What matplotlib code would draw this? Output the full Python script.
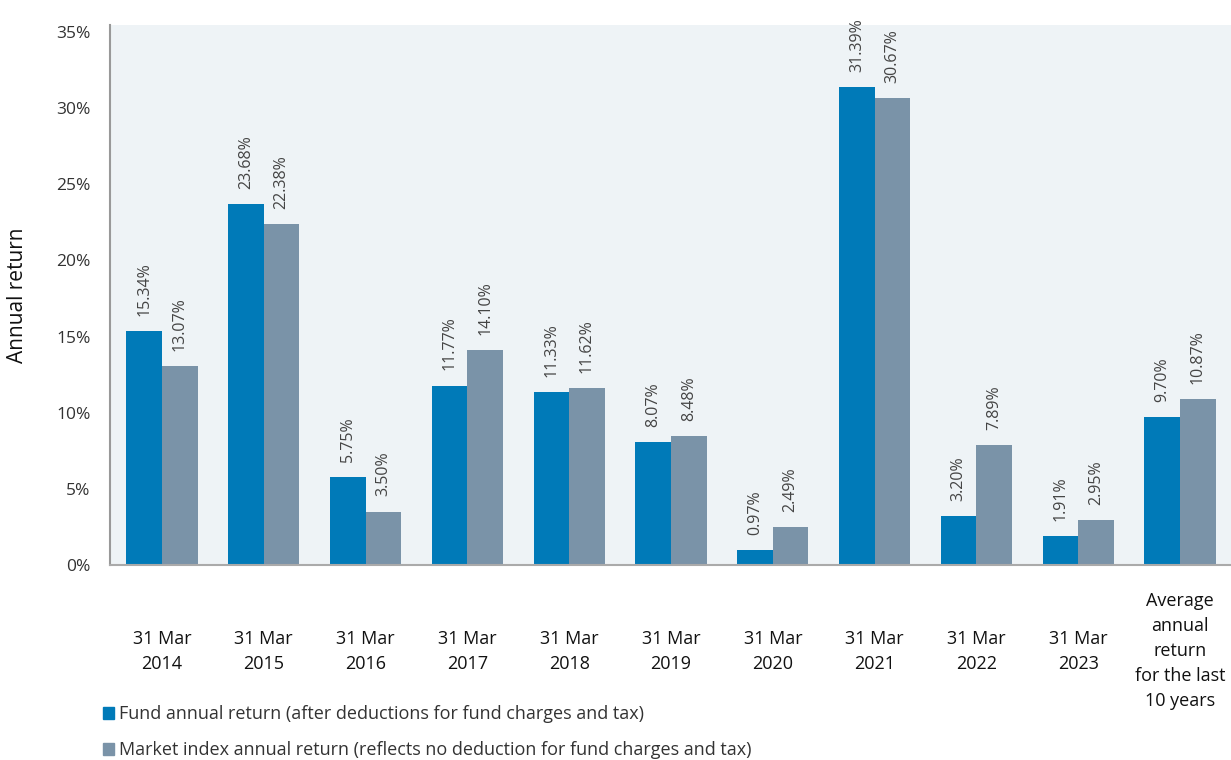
import matplotlib
matplotlib.use('Agg')
import matplotlib.pyplot as plt
import numpy as np
from matplotlib.patches import Patch

plt.rcParams['font.family'] = ['Open Sans', 'DejaVu Sans']

# data
periods = ['31 Mar\n2014', '31 Mar\n2015', '31 Mar\n2016', '31 Mar\n2017', '31 Mar\n2018',
           '31 Mar\n2019', '31 Mar\n2020', '31 Mar\n2021', '31 Mar\n2022', '31 Mar\n2023',
           'Average\nannual\nreturn\nfor the last\n10 years']
fund_ret = [15.34, 23.68, 5.75, 11.77, 11.33, 8.07, 0.97, 31.39, 3.20, 1.91, 9.70]
index_ret = [13.07, 22.38, 3.50, 14.10, 11.62, 8.48, 2.49, 30.67, 7.89, 2.95, 10.87]
yticks = [0, 5, 10, 15, 20, 25, 30, 35]

FUND_COL = '#007AB8'
INDEX_COL = '#7A93A8'
BG_COL = '#EEF3F6'

fig = plt.figure(figsize=(12.31, 7.6), dpi=100)
ax = fig.add_axes([110 / 1231, 195 / 760, 1121 / 1231, 540 / 760])
ax.set_facecolor(BG_COL)

x = np.arange(len(periods))
w = 0.35
b1 = ax.bar(x - w / 2, fund_ret, w, color=FUND_COL, zorder=2)
b2 = ax.bar(x + w / 2, index_ret, w, color=INDEX_COL, zorder=2)

for bars, vals in ((b1, fund_ret), (b2, index_ret)):
    for bar, v in zip(bars, vals):
        ax.annotate(f'{v:.2f}%', (bar.get_x() + bar.get_width() / 2, v),
                    xytext=(0, 11), textcoords='offset points',
                    rotation=90, ha='center', va='bottom',
                    fontsize=11.5, color='#444444')

ax.set_xlim(-0.51, 10.5)
ax.set_ylim(0, 35.45)
ax.set_yticks(yticks)
ax.set_yticklabels([f'{t}%' for t in yticks], fontsize=12.5, color='#333333')
ax.tick_params(axis='y', length=0, pad=14)

ax.set_xticks(x)
ax.set_xticklabels(periods, fontsize=13, color='#111111', linespacing=1.5)
ax.tick_params(axis='x', length=0, pad=62)
for lbl in ax.get_xticklabels():
    lbl.set_verticalalignment('center')

ax.set_ylabel('Annual return', fontsize=15, color='#111111', labelpad=20)

for s in ('top', 'right'):
    ax.spines[s].set_visible(False)
ax.spines['left'].set_color('#999999')
ax.spines['left'].set_linewidth(1.5)
ax.spines['bottom'].set_color('#AAAAAA')
ax.spines['bottom'].set_linewidth(1.5)

handles = [Patch(color=FUND_COL), Patch(color=INDEX_COL)]
labels = ['Fund annual return (after deductions for fund charges and tax)',
          'Market index annual return (reflects no deduction for fund charges and tax)']
fig.legend(handles, labels, loc='upper left', bbox_to_anchor=(96 / 1231, 1 - 698 / 760),
           frameon=False, fontsize=13, labelcolor='#333333',
           handlelength=0.6, handleheight=0.6, handletextpad=0.3, labelspacing=1.0,
           borderaxespad=0)

fig.savefig('out.png', dpi=100)
